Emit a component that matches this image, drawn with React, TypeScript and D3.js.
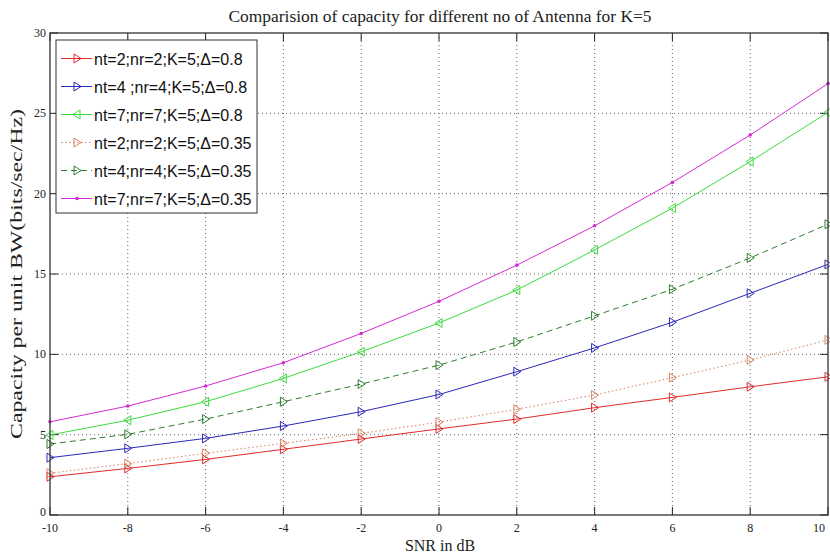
import React from 'react';
import { scaleLinear, line } from 'd3';

// SNR values on the x axis
const snr = [-10, -8, -6, -4, -2, 0, 2, 4, 6, 8, 10];

// capacity values
const cap22_08 = [2.38, 2.9, 3.46, 4.09, 4.73, 5.36, 5.97, 6.68, 7.32, 7.98, 8.6];
const cap44_08 = [3.57, 4.15, 4.77, 5.54, 6.43, 7.5, 8.92, 10.4, 12.0, 13.8, 15.6];
const cap77_08 = [4.98, 5.9, 7.05, 8.5, 10.16, 11.95, 14.0, 16.5, 19.1, 22.0, 25.06];
const cap22_035 = [2.6, 3.2, 3.84, 4.46, 5.08, 5.78, 6.58, 7.47, 8.55, 9.65, 10.9];
const cap44_035 = [4.42, 5.02, 5.97, 7.05, 8.15, 9.33, 10.77, 12.4, 14.05, 16.0, 18.1];
const cap77_035 = [5.8, 6.78, 8.03, 9.48, 11.3, 13.3, 15.55, 18.0, 20.7, 23.65, 26.85];

const legendLabels = [
  'nt=2;nr=2;K=5;\u0394=0.8',
  'nt=4 ;nr=4;K=5;\u0394=0.8',
  'nt=7;nr=7;K=5;\u0394=0.8',
  'nt=2;nr=2;K=5;\u0394=0.35',
  'nt=4;nr=4;K=5;\u0394=0.35',
  'nt=7;nr=7;K=5;\u0394=0.35',
];

const xTicks = [-10, -8, -6, -4, -2, 0, 2, 4, 6, 8, 10];
const yTicks = [0, 5, 10, 15, 20, 25, 30];

const series = [
  { values: cap22_08, color: '#e02a2a', dash: 'none', marker: 'right' },
  { values: cap44_08, color: '#2a2ab8', dash: 'none', marker: 'right' },
  { values: cap77_08, color: '#3cdc3c', dash: 'none', marker: 'left' },
  { values: cap22_035, color: '#d98060', dash: '1.5,2.5', marker: 'right' },
  { values: cap44_035, color: '#2e7d2e', dash: '6,4', marker: 'right' },
  { values: cap77_035, color: '#d42ad4', dash: 'none', marker: 'dot' },
];

const W = 830, H = 556;
const left = 50, right = 828, top = 33, bottom = 515;

function Marker({ x, y, kind, color }: { x: number; y: number; kind: string; color: string }) {
  if (kind === 'dot') return <circle cx={x} cy={y} r={1.8} fill={color} />;
  const d = kind === 'right'
    ? `M${x - 3},${y - 4.5}L${x + 4},${y}L${x - 3},${y + 4.5}Z`
    : `M${x + 3},${y - 4.5}L${x - 4},${y}L${x + 3},${y + 4.5}Z`;
  return <path d={d} fill="none" stroke={color} strokeWidth={1} />;
}

export default function App() {
  const x = scaleLinear().domain([-10, 10]).range([left, right]);
  const y = scaleLinear().domain([0, 30]).range([bottom, top]);
  const gen = line<number>().x((_, i) => x(snr[i])).y(d => y(d));

  const serif = "'Liberation Serif', 'Times New Roman', serif";

  return (
    <svg width={W} height={H} style={{ position: 'absolute', left: 0, top: 0, background: '#fff' }}>
      <rect x={0} y={0} width={W} height={H} fill="#fff" />
      {/* grid */}
      {xTicks.slice(1, -1).map(t => (
        <line key={'gx' + t} x1={x(t)} x2={x(t)} y1={top} y2={bottom} stroke="#666" strokeWidth={1} strokeDasharray="1,3" />
      ))}
      {yTicks.slice(1, -1).map(t => (
        <line key={'gy' + t} x1={left} x2={right} y1={y(t)} y2={y(t)} stroke="#666" strokeWidth={1} strokeDasharray="1,3" />
      ))}
      {/* tick marks */}
      {xTicks.map(t => (
        <g key={'tx' + t}>
          <line x1={x(t)} x2={x(t)} y1={bottom} y2={bottom - 8} stroke="#222" />
          <line x1={x(t)} x2={x(t)} y1={top} y2={top + 8} stroke="#222" />
          <text x={Math.min(x(t), 819)} y={bottom + 17} fontFamily={serif} fontSize={12} textAnchor="middle" fill="#222">{t}</text>
        </g>
      ))}
      {yTicks.map(t => (
        <g key={'ty' + t}>
          <line x1={left} x2={left + 8} y1={y(t)} y2={y(t)} stroke="#222" />
          <line x1={right} x2={right - 8} y1={y(t)} y2={y(t)} stroke="#222" />
          <text x={left - 4} y={y(t) + (t === 0 ? 1 : 4)} fontFamily={serif} fontSize={12} textAnchor="end" fill="#222">{t}</text>
        </g>
      ))}
      {/* series */}
      {series.map((s, si) => (
        <g key={'s' + si}>
          <path d={gen(s.values) || ''} fill="none" stroke={s.color} strokeWidth={1} strokeDasharray={s.dash} />
          {s.values.map((v, i) => (
            <Marker key={i} x={x(snr[i])} y={y(v)} kind={s.marker} color={s.color} />
          ))}
        </g>
      ))}
      {/* axes box */}
      <rect x={left} y={top} width={right - left} height={bottom - top} fill="none" stroke="#333" strokeWidth={1.3} />
      {/* legend */}
      <g>
        <rect x={56} y={40} width={201} height={173} fill="#fff" stroke="#333" strokeWidth={1} />
        {legendLabels.map((lab, i) => {
          const ly = 58.5 + i * 28;
          const s = series[i];
          return (
            <g key={'l' + i}>
              <line x1={61} x2={92} y1={ly} y2={ly} stroke={s.color} strokeWidth={1} strokeDasharray={s.dash} />
              <Marker x={77} y={ly} kind={s.marker} color={s.color} />
              <text x={94} y={ly + 6} fontFamily="'Liberation Sans', Arial, sans-serif" fontSize={16} fill="#111">{lab}</text>
            </g>
          );
        })}
      </g>
      {/* title and labels */}
      <text x={440} y={22} fontFamily={serif} fontSize={16} textAnchor="middle" fill="#222" textLength={423} lengthAdjust="spacingAndGlyphs">
        Comparision of capacity for different no of Antenna for K=5
      </text>
      <text x={440} y={551} fontFamily={serif} fontSize={16} textAnchor="middle" fill="#222">SNR in dB</text>
      <text transform={`translate(22,${(top + bottom) / 2}) rotate(-90)`} fontFamily={serif} fontSize={17} textAnchor="middle" fill="#222" textLength={330} lengthAdjust="spacingAndGlyphs">
        Capacity per unit BW(bits/sec/Hz)
      </text>
    </svg>
  );
}
